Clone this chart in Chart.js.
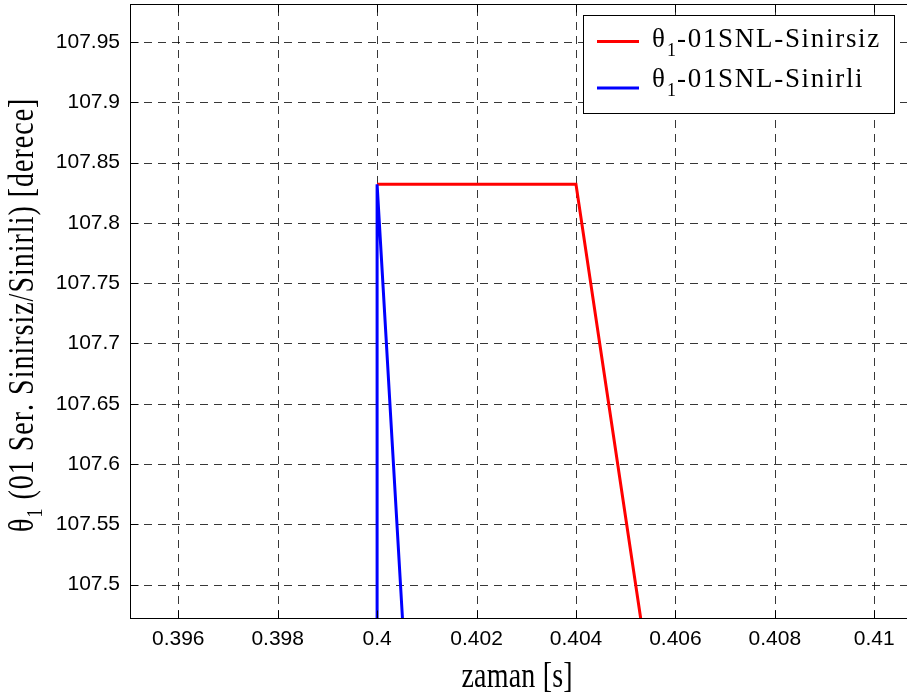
<!DOCTYPE html>
<html>
<head>
<meta charset="utf-8">
<title>θ1 – 01 SNL</title>
<script src="https://cdn.jsdelivr.net/npm/chart.js@4/dist/chart.umd.min.js"></script>
<style>
  html, body { margin: 0; padding: 0; background: #fff; overflow: hidden; }
  #wrap { position: relative; width: 930px; height: 698px; }
</style>
</head>
<body>
<div id="wrap"><canvas id="c" width="930" height="698"></canvas></div>
<script>
// Rotor angle θ1 around t = 0.4 s, unlimited vs. limited case
const timeSinirsiz  = [0.4, 0.404, 0.40545];
const thetaSinirsiz = [107.832, 107.832, 107.431];
const timeSinirli   = [0.4, 0.4, 0.40055];
const thetaSinirli  = [107.43, 107.832, 107.444];

const xTicks = [0.396, 0.398, 0.4, 0.402, 0.404, 0.406, 0.408, 0.41];
const yTicks = [107.5, 107.55, 107.6, 107.65, 107.7, 107.75, 107.8, 107.85, 107.9, 107.95];

const seriesNames = ['-01SNL-Sinirsiz', '-01SNL-Sinirli'];
const seriesColors = ['#ff0000', '#0000ff'];

const SERIF = '"Liberation Serif", "Times New Roman", serif';
const SANS = '"Liberation Sans", Arial, sans-serif';

function toPoints(xs, ys) { return xs.map((x, i) => ({ x: x, y: ys[i] })); }

// draw a string char by char with extra tracking, returns end x
function spaced(ctx, text, x, y, track) {
  for (const ch of text) {
    ctx.fillText(ch, x, y);
    x += ctx.measureText(ch).width + track;
  }
  return x;
}
function spacedWidth(ctx, text, track) {
  let w = 0;
  for (const ch of text) w += ctx.measureText(ch).width + track;
  return w - track;
}

const matlabFrame = {
  id: 'matlabFrame',
  beforeDatasetsDraw(chart) {
    const { ctx, chartArea: a, scales } = chart;
    ctx.save();
    ctx.beginPath();
    ctx.rect(a.left, a.top, a.right - a.left, a.bottom - a.top);
    ctx.clip();
    ctx.strokeStyle = 'rgba(0,0,0,0.78)';
    ctx.lineWidth = 1;
    ctx.setLineDash([8, 6]);
    xTicks.forEach(v => {
      const px = Math.round(scales.x.getPixelForValue(v)) + 0.5;
      ctx.beginPath(); ctx.moveTo(px, a.bottom); ctx.lineTo(px, a.top); ctx.stroke();
    });
    yTicks.forEach(v => {
      const py = Math.round(scales.y.getPixelForValue(v)) + 0.5;
      ctx.beginPath(); ctx.moveTo(a.left, py); ctx.lineTo(a.right, py); ctx.stroke();
    });
    ctx.restore();
  },
  afterDatasetsDraw(chart) {
    const { ctx, chartArea: a, scales } = chart;
    const L = a.left + 0.5, R = a.right + 0.5, T = a.top + 0.5, B = a.bottom + 0.5;
    ctx.save();
    ctx.strokeStyle = '#000';
    ctx.lineWidth = 1;
    ctx.setLineDash([]);
    ctx.strokeRect(L, T, R - L, B - T);
    const tl = 8;
    ctx.beginPath();
    xTicks.forEach(v => {
      const px = Math.round(scales.x.getPixelForValue(v)) + 0.5;
      ctx.moveTo(px, B); ctx.lineTo(px, B - tl);
      ctx.moveTo(px, T); ctx.lineTo(px, T + tl);
    });
    yTicks.forEach(v => {
      const py = Math.round(scales.y.getPixelForValue(v)) + 0.5;
      ctx.moveTo(L, py); ctx.lineTo(L + tl, py);
      ctx.moveTo(R, py); ctx.lineTo(R - tl, py);
    });
    ctx.stroke();

    // legend box
    const lx = 583.5, ly = 15.5, lw = 311, lh = 98;
    ctx.fillStyle = '#fff';
    ctx.fillRect(lx, ly, lw, lh);
    ctx.strokeRect(lx, ly, lw, lh);
    const rows = [{ line: 41.5, base: 47 }, { line: 88, base: 87 }];
    rows.forEach((r, i) => {
      ctx.strokeStyle = seriesColors[i];
      ctx.lineWidth = 3;
      ctx.beginPath(); ctx.moveTo(597, r.line); ctx.lineTo(639, r.line); ctx.stroke();
      ctx.fillStyle = '#000';
      ctx.textBaseline = 'alphabetic';
      ctx.textAlign = 'left';
      ctx.font = '27px ' + SERIF;
      ctx.fillText('θ', 652, r.base);
      ctx.font = '18px ' + SERIF;
      ctx.fillText('1', 667, r.base + 9);
      ctx.font = '27px ' + SERIF;
      spaced(ctx, seriesNames[i], 677, r.base, 1.7);
    });

    // x axis title
    ctx.fillStyle = '#000';
    ctx.font = '28px ' + SERIF;
    const xt = 'zaman [s]';
    const xw = spacedWidth(ctx, xt, 0.2);
    ctx.save();
    ctx.translate(517 - xw / 2, 687);
    ctx.scale(1, 1.3);
    spaced(ctx, xt, 0, 0, 0.2);
    ctx.restore();

    // y axis title
    ctx.save();
    ctx.translate(33, 532);
    ctx.rotate(-Math.PI / 2);
    ctx.scale(1, 1.3);
    ctx.font = '28px ' + SERIF;
    ctx.fillText('θ', 0, 0);
    let cx = ctx.measureText('θ').width + 1;
    ctx.font = '18px ' + SERIF;
    ctx.fillText('1', cx, 7);
    cx += ctx.measureText('1').width + 1;
    ctx.font = '28px ' + SERIF;
    spaced(ctx, ' (01 Ser. Sinirsiz/Sinirli) [derece]', cx, 0, 1);
    ctx.restore();

    ctx.restore();
  }
};

new Chart(document.getElementById('c'), {
  type: 'scatter',
  data: {
    datasets: [
      {
        label: 'θ1' + seriesNames[0],
        data: toPoints(timeSinirsiz, thetaSinirsiz),
        showLine: true, borderColor: seriesColors[0], backgroundColor: seriesColors[0],
        borderWidth: 3, pointRadius: 0, tension: 0, clip: 0, order: 1
      },
      {
        label: 'θ1' + seriesNames[1],
        data: toPoints(timeSinirli, thetaSinirli),
        showLine: true, borderColor: seriesColors[1], backgroundColor: seriesColors[1],
        borderWidth: 3, pointRadius: 0, tension: 0, clip: 0, order: 0
      }
    ]
  },
  options: {
    responsive: false,
    animation: false,
    devicePixelRatio: 1,
    layout: { padding: { top: 4, right: 6, left: 0, bottom: 0 } },
    plugins: { legend: { display: false }, tooltip: { enabled: false } },
    scales: {
      x: {
        type: 'linear', position: 'bottom',
        min: 0.39503, max: 0.411,
        grid: { display: false, drawTicks: false },
        border: { display: false },
        afterBuildTicks: s => { s.ticks = xTicks.map(v => ({ value: v })); },
        afterFit: s => { s.height = 80; s.paddingLeft = 0; s.paddingRight = 0; },
        ticks: {
          autoSkip: false, maxRotation: 0, padding: 9, color: '#000',
          font: { family: SANS, size: 21 },
          callback: v => String(v)
        }
      },
      y: {
        type: 'linear', position: 'left',
        min: 107.4723, max: 107.9816,
        grid: { display: false, drawTicks: false },
        border: { display: false },
        afterBuildTicks: s => { s.ticks = yTicks.map(v => ({ value: v })); },
        afterFit: s => { s.width = 130; s.paddingTop = 0; s.paddingBottom = 0; },
        ticks: {
          autoSkip: false, padding: 10, color: '#000',
          font: { family: SANS, size: 21 },
          callback: v => String(v)
        }
      }
    }
  },
  plugins: [matlabFrame]
});
</script>
</body>
</html>
